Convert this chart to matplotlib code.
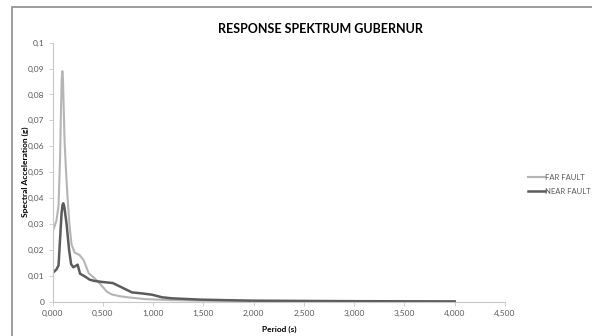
import matplotlib
matplotlib.use('Agg')
import matplotlib.pyplot as plt
from matplotlib.patches import Rectangle
from matplotlib.ticker import FuncFormatter

# periode (s) dan percepatan spektral (g)
periode_far = [0.0, 0.02, 0.04, 0.06, 0.075, 0.085, 0.092, 0.098, 0.104, 0.11, 0.12, 0.135,
               0.15, 0.17, 0.19, 0.22, 0.27, 0.31, 0.36, 0.42, 0.47, 0.54, 0.59, 0.67,
               0.75, 0.92, 1.19, 1.5, 2.0, 3.0, 4.0]
sa_far = [0.027, 0.029, 0.0315, 0.037, 0.055, 0.075, 0.086, 0.089, 0.086, 0.077, 0.062, 0.05,
          0.04, 0.029, 0.022, 0.019, 0.018, 0.016, 0.011, 0.009, 0.007, 0.0039, 0.0028, 0.0021,
          0.0017, 0.001, 0.0006, 0.0004, 0.0003, 0.0002, 0.0001]

periode_near = [0.0, 0.04, 0.06, 0.075, 0.09, 0.1, 0.108, 0.118, 0.14, 0.165, 0.185, 0.207,
                0.23, 0.25, 0.274, 0.32, 0.37, 0.42, 0.5, 0.6, 0.69, 0.79, 0.89, 0.99,
                1.09, 1.19, 1.47, 1.96, 3.0, 4.0]
sa_near = [0.011, 0.0125, 0.014, 0.024, 0.034, 0.0375, 0.038, 0.0365, 0.030, 0.020, 0.0145, 0.0133,
           0.0138, 0.0143, 0.0108, 0.0098, 0.0085, 0.008, 0.0076, 0.0072, 0.0055, 0.0036,
           0.0032, 0.0027, 0.0017, 0.0013, 0.0008, 0.0004, 0.0002, 0.0001]

xticks = [0, 0.5, 1.0, 1.5, 2.0, 2.5, 3.0, 3.5, 4.0, 4.5]
yticks = [0, 0.01, 0.02, 0.03, 0.04, 0.05, 0.06, 0.07, 0.08, 0.09, 0.1]

plt.rcParams['font.family'] = ['Lato', 'DejaVu Sans']

fig = plt.figure(figsize=(5.92, 3.36), dpi=100)
ax = fig.add_axes([52.5/592, 1-301.7/336, (505-52.5)/592, (301.7-42.7)/336])

# bingkai chart
fig.patches.append(Rectangle((12/592, -0.1), 1.2, 1.1-7/336, transform=fig.transFigure,
                             fill=False, edgecolor='#8c8c8c', linewidth=1.2))

ax.plot(periode_far, sa_far, color='#b5b5b5', linewidth=1.5, label='FAR FAULT')
ax.plot(periode_near, sa_near, color='#5c5c5c', linewidth=1.8, label='NEAR FAULT')

ax.set_xlim(0, 4.5)
ax.set_ylim(0, 0.1)
ax.set_xticks(xticks)
ax.set_yticks(yticks)
ax.xaxis.set_major_formatter(FuncFormatter(lambda v, p: ('%.3f' % v).replace('.', ',')))
ax.yaxis.set_major_formatter(FuncFormatter(lambda v, p: '0' if v == 0 else ('%g' % round(v, 3)).replace('.', ',')))

for s in ['top', 'right']:
    ax.spines[s].set_visible(False)
ax.spines['left'].set_color('#c8c8c8')
ax.spines['bottom'].set_color('#c8c8c8')
ax.tick_params(axis='both', direction='out', length=3, width=0.6, color='#c8c8c8',
               labelsize=6, labelcolor='#595959', pad=3)

ax.set_xlabel('Period (s)', fontsize=6, fontweight='bold', labelpad=6)
ax.yaxis.set_label_coords((29 - 52.5)/452.5, 0.5)
ax.set_ylabel('Spectral Acceleration (g)', fontsize=6, fontweight='bold')
fig.text(320/592, 1-29/336, 'RESPONSE SPEKTRUM GUBERNUR', ha='center', va='center',
         fontsize=9, fontweight='bold')

leg = ax.legend(loc='upper left', bbox_to_anchor=(1.035, 0.52), frameon=False,
                fontsize=5.5, handlelength=2.2, handletextpad=0.1, labelspacing=0.9)
for t in leg.get_texts():
    t.set_color('#595959')

fig.savefig('out.png', dpi=100, facecolor='white')
